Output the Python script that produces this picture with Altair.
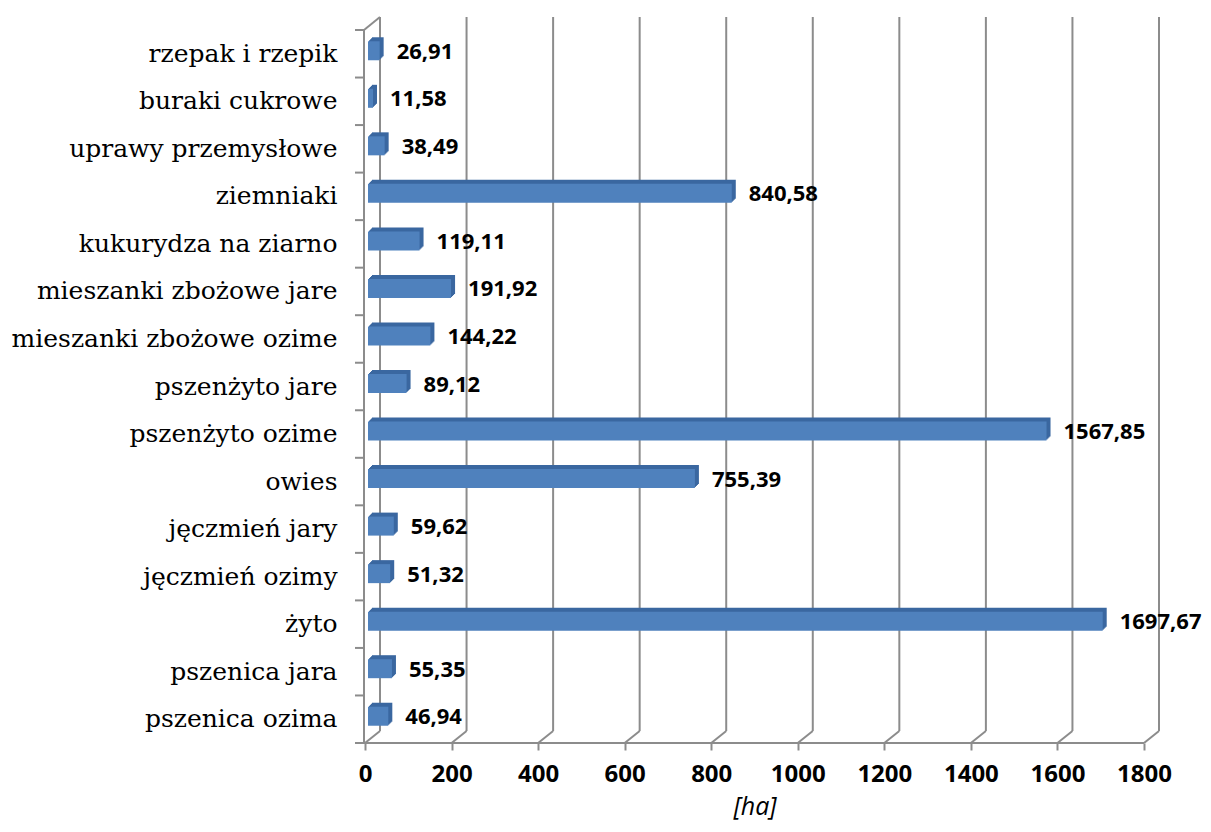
import altair as alt
import pandas as pd

categories = [
    "rzepak i rzepik", "buraki cukrowe", "uprawy przemysłowe", "ziemniaki",
    "kukurydza na ziarno", "mieszanki zbożowe jare", "mieszanki zbożowe ozime",
    "pszenżyto jare", "pszenżyto ozime", "owies", "jęczmień jary",
    "jęczmień ozimy", "żyto", "pszenica jara", "pszenica ozima",
]
values = [26.91, 11.58, 38.49, 840.58, 119.11, 191.92, 144.22, 89.12,
          1567.85, 755.39, 59.62, 51.32, 1697.67, 55.35, 46.94]
x_ticks = [0, 200, 400, 600, 800, 1000, 1200, 1400, 1600, 1800]
unit_title = "[ha]"

W, H = 779, 713
DX, DY = 15, -12
GRID = "#8C8C8C"
FRONT = "#4F81BD"
SHADOW = "#3A67A0"

df = pd.DataFrame({
    "crop": categories,
    "area": values,
    "label": [f"{v:.2f}".replace(".", ",") for v in values],
})
ticks_df = pd.DataFrame({"t": x_ticks})
one = pd.DataFrame({"a": [0]})

xscale = alt.Scale(domain=[0, 1800], nice=False, zero=True)
yscale = alt.Scale(domain=categories, paddingInner=0, paddingOuter=0)

X_AXIS = alt.Axis(
    values=x_ticks, format="d", title=unit_title, domain=False,
    ticks=True, tickSize=7, tickColor=GRID, tickWidth=2, grid=False,
    labelFont="Open Sans", labelFontWeight="bold", labelFontSize=24,
    labelColor="black", labelPadding=12, labelFlush=False,
    titleFont="Open Sans", titleFontStyle="italic",
    titleFontWeight="normal", titleFontSize=25, titleColor="black",
    titlePadding=8,
)
Y_AXIS = alt.Axis(
    title=None, domain=False, ticks=False,
    labelPadding=28, labelFont="DejaVu Serif", labelFontSize=25,
    labelColor="black", labelLimit=0, labelOverlap=False, grid=False,
)

# back wall vertical gridlines
back_grid = alt.Chart(ticks_df).mark_rule(
    color=GRID, strokeWidth=2, xOffset=DX
).encode(
    x=alt.X("t:Q", scale=xscale, axis=X_AXIS),
    y=alt.value(DY - 1),
    y2=alt.value(H + DY),
)

# floor diagonals
floor_diag = alt.Chart(ticks_df).mark_rule(
    color=GRID, strokeWidth=2, x2Offset=DX
).encode(
    x=alt.X("t:Q", scale=xscale, axis=X_AXIS),
    x2=alt.X2("t"),
    y=alt.value(H),
    y2=alt.value(H + DY),
)

left_front = alt.Chart(one).mark_rule(color=GRID, strokeWidth=2).encode(
    x=alt.value(-1), y=alt.value(0), y2=alt.value(H)
)
left_top = alt.Chart(one).mark_rule(color=GRID, strokeWidth=2).encode(
    x=alt.value(-1), x2=alt.value(DX), y=alt.value(0), y2=alt.value(DY - 1)
)
floor_line = alt.Chart(one).mark_rule(color=GRID, strokeWidth=2).encode(
    x=alt.value(-10), x2=alt.value(W), y=alt.value(H)
)

# category tick marks at band boundaries
y_ticks = alt.Chart(df).mark_rule(color=GRID, strokeWidth=2).encode(
    y=alt.Y("crop:N", scale=yscale, axis=Y_AXIS, bandPosition=0),
    x=alt.value(-10),
    x2=alt.value(-1),
)

shadows = []
for k in range(1, 5):
    shadows.append(
        alt.Chart(df).mark_bar(
            size=19, color=SHADOW,
            xOffset=3 + k, x2Offset=3 + k, yOffset=-3 - k, y2Offset=-3 - k,
        ).encode(
            x=alt.X("area:Q", scale=xscale, axis=X_AXIS),
            y=alt.Y("crop:N", scale=yscale, axis=Y_AXIS),
        )
    )

bars = alt.Chart(df).mark_bar(
    size=19, color=FRONT, xOffset=3, x2Offset=3, yOffset=-3, y2Offset=-3
).encode(
    x=alt.X("area:Q", scale=xscale, axis=X_AXIS),
    y=alt.Y("crop:N", scale=yscale, axis=Y_AXIS),
)

labels = alt.Chart(df).mark_text(
    align="left", baseline="middle", dx=20, dy=-2,
    font="Open Sans", fontWeight="bold", fontSize=22, color="black",
).encode(
    x=alt.X("area:Q", scale=xscale, axis=X_AXIS),
    y=alt.Y("crop:N", scale=yscale, axis=Y_AXIS),
    text="label:N",
)

chart = alt.layer(
    back_grid, floor_diag, left_front, left_top, floor_line, y_ticks,
    *shadows, bars, labels,
).properties(
    width=W, height=H,
    autosize=alt.AutoSizeParams(type="none"),
    padding={"left": 357, "top": 22, "right": 58, "bottom": 80},
).configure_view(stroke=None)

chart.save("out.html", embed_options={"renderer": "svg", "actions": False})
